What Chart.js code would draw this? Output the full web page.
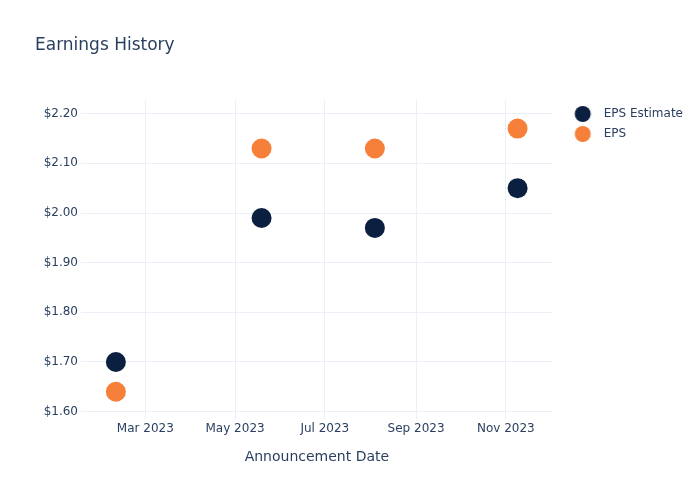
<!DOCTYPE html>
<html>
<head>
<meta charset="utf-8">
<script src="https://cdn.jsdelivr.net/npm/chart.js@4.4.1/dist/chart.umd.min.js"></script>
<style>
  html, body { margin: 0; padding: 0; background: #ffffff; }
  #wrap { width: 700px; height: 500px; }
</style>
</head>
<body>
<div id="wrap"><canvas id="c" width="700" height="500"></canvas></div>
<script>
// ---- data ----
const announceDates = ["2023-02-09", "2023-05-19", "2023-08-04", "2023-11-09"];
const epsEstimate = [1.70, 1.99, 1.97, 2.05];
const epsActual = [1.64, 2.13, 2.13, 2.17];
const seriesNames = ["EPS Estimate", "EPS"];
const xTickDates = ["2023-03-01", "2023-05-01", "2023-07-01", "2023-09-01", "2023-11-01"];
const xTickLabels = ["Mar 2023", "May 2023", "Jul 2023", "Sep 2023", "Nov 2023"];
const yTickValues = [1.6, 1.7, 1.8, 1.9, 2.0, 2.1, 2.2];
const chartTitle = "Earnings History";
const xAxisTitle = "Announcement Date";

// ---- helpers ----
const toMs = s => Date.parse(s + (s.length === 10 ? "T00:00:00Z" : "Z"));
const navy = "#0b1f40";
const orange = "#f6803a";
const textColor = "#2a3f5f";
const gridColor = "#ebf0f8";

function legendDot(color) {
  const cv = document.createElement("canvas");
  cv.width = 30; cv.height = 20;
  const g = cv.getContext("2d");
  g.fillStyle = color;
  g.beginPath();
  g.arc(18.5, 10, 8, 0, Math.PI * 2);
  g.fill();
  return cv;
}
const legendDots = [legendDot(navy), legendDot(orange)];

Chart.defaults.font.family = "'DejaVu Sans', sans-serif";
Chart.defaults.color = textColor;

const xTickMs = xTickDates.map(toMs);

new Chart(document.getElementById("c"), {
  type: "scatter",
  data: {
    datasets: [
      {
        label: seriesNames[0],
        data: announceDates.map((d, i) => ({ x: toMs(d), y: epsEstimate[i] })),
        backgroundColor: navy,
        borderColor: navy,
        pointRadius: 10,
        pointHoverRadius: 10,
        pointBorderWidth: 0
      },
      {
        label: seriesNames[1],
        data: announceDates.map((d, i) => ({ x: toMs(d), y: epsActual[i] })),
        backgroundColor: orange,
        borderColor: orange,
        pointRadius: 10,
        pointHoverRadius: 10,
        pointBorderWidth: 0
      }
    ]
  },
  options: {
    responsive: false,
    animation: false,
    events: [],
    layout: { padding: { left: 35, right: 7, top: 0, bottom: 34.6 } },
    plugins: {
      tooltip: { enabled: false },
      title: {
        display: true,
        text: chartTitle,
        align: "start",
        color: textColor,
        font: { size: 17, weight: "normal" },
        padding: { top: 35.8, bottom: 43.8 }
      },
      legend: {
        position: "right",
        align: "start",
        fullSize: false,
        labels: {
          usePointStyle: true,
          pointStyleWidth: 37,
          boxHeight: 12,
          padding: 8,
          color: textColor,
          font: { size: 12 },
          generateLabels: (chart) => {
            const items = Chart.defaults.plugins.legend.labels.generateLabels(chart);
            items.forEach((it, i) => { it.pointStyle = legendDots[i]; });
            return items;
          }
        }
      }
    },
    scales: {
      x: {
        type: "linear",
        min: toMs("2023-01-16T07:00:00"),
        max: toMs("2023-12-02T21:30:00"),
        afterBuildTicks: (scale) => { scale.ticks = xTickMs.map(v => ({ value: v })); },
        ticks: {
          padding: 3,
          maxRotation: 0,
          autoSkip: false,
          font: { size: 12 },
          color: textColor,
          callback: (v) => { const i = xTickMs.indexOf(v); return i >= 0 ? xTickLabels[i] : ""; }
        },
        grid: { color: gridColor, lineWidth: 1, drawTicks: false },
        border: { display: false },
        title: {
          display: true,
          text: xAxisTitle,
          color: textColor,
          font: { size: 14 },
          padding: { top: 9.1, bottom: 0 }
        }
      },
      y: {
        type: "linear",
        min: 1.5849,
        max: 2.2276,
        afterBuildTicks: (scale) => { scale.ticks = yTickValues.map(v => ({ value: v })); },
        afterFit: (scale) => { scale.width = 46; },
        ticks: {
          padding: 3,
          font: { size: 12 },
          color: textColor,
          callback: (v) => "$" + Number(v).toFixed(2)
        },
        grid: { color: gridColor, lineWidth: 1, drawTicks: false },
        border: { display: false }
      }
    }
  }
});
</script>
</body>
</html>
